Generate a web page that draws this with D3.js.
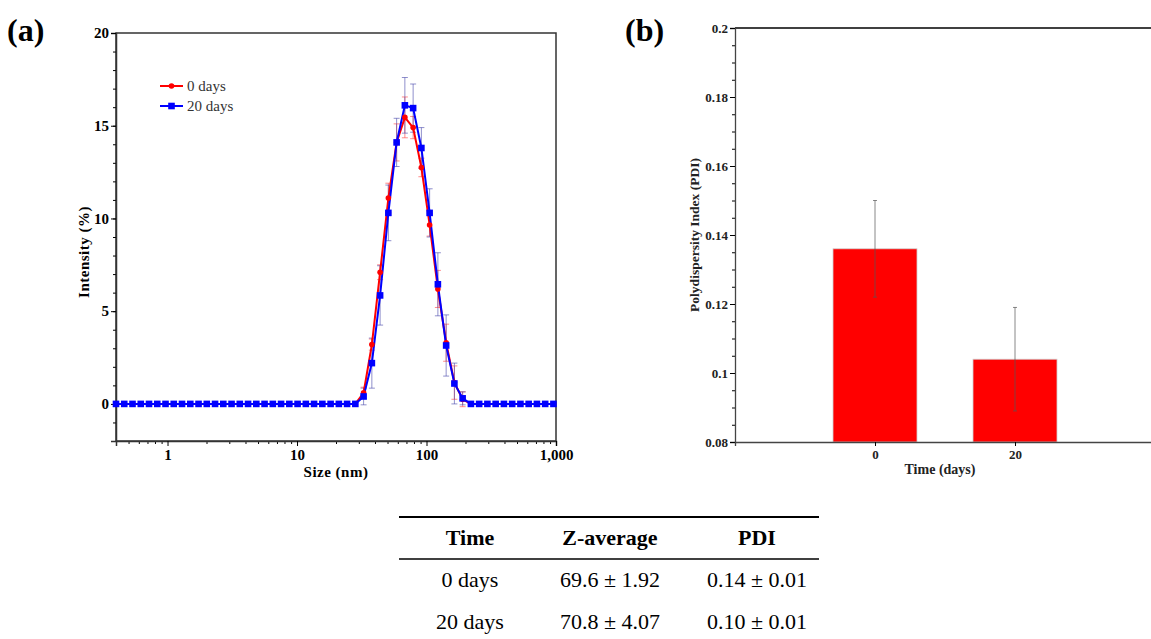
<html lang="en">
  <head>
    <meta charset="utf-8">
    <script src="https://d3js.org/d3.v7.min.js"></script>
    <style type="text/css">
body {
  margin: 0;
  background: white;
}
svg text {
  font-family: "Liberation Serif", "Times New Roman", serif;
}
    </style>
  </head>
  <body>
    <div id="figure"></div>

    <script type="text/javascript">
// DLS size classes (nm)
const sizes = [0.4, 0.4632, 0.5365, 0.6213, 0.7195, 0.8332, 0.9649, 1.117, 1.294, 1.499,
  1.736, 2.01, 2.328, 2.696, 3.122, 3.615, 4.187, 4.849, 5.615, 6.503,
  7.531, 8.721, 10.1, 11.7, 13.54, 15.69, 18.17, 21.04, 24.36, 28.21,
  32.67, 37.84, 43.82, 50.75, 58.77, 68.06, 78.82, 91.28, 105.7, 122.4,
  141.8, 164.2, 190.1, 220.2, 255, 295.3, 342, 396.1, 458.7, 531.2,
  615.1, 712.4, 825, 955.4];

const intensity0 = [0, 0, 0, 0, 0, 0, 0, 0, 0, 0,
  0, 0, 0, 0, 0, 0, 0, 0, 0, 0,
  0, 0, 0, 0, 0, 0, 0, 0, 0, 0,
  0.6, 3.2, 7.1, 11.1, 14.1, 15.45, 14.9, 12.75, 9.65, 6.2,
  3.3, 1.15, 0.25, 0, 0, 0, 0, 0, 0, 0,
  0, 0, 0, 0];
const error0 = [0, 0, 0, 0, 0, 0, 0, 0, 0, 0,
  0, 0, 0, 0, 0, 0, 0, 0, 0, 0,
  0, 0, 0, 0, 0, 0, 0, 0, 0, 0,
  0.3, 0.3, 0.4, 0.8, 1.0, 1.1, 0.6, 0.5, 0.6, 1.0,
  1.0, 0.9, 0.4, 0, 0, 0, 0, 0, 0, 0,
  0, 0, 0, 0];

const intensity20 = [0, 0, 0, 0, 0, 0, 0, 0, 0, 0,
  0, 0, 0, 0, 0, 0, 0, 0, 0, 0,
  0, 0, 0, 0, 0, 0, 0, 0, 0, 0,
  0.4, 2.2, 5.85, 10.3, 14.1, 16.1, 15.95, 13.8, 10.3, 6.45,
  3.15, 1.1, 0.3, 0, 0, 0, 0, 0, 0, 0,
  0, 0, 0, 0];
const error20 = [0, 0, 0, 0, 0, 0, 0, 0, 0, 0,
  0, 0, 0, 0, 0, 0, 0, 0, 0, 0,
  0, 0, 0, 0, 0, 0, 0, 0, 0, 0,
  0.45, 1.35, 1.6, 1.5, 1.3, 1.5, 1.3, 1.1, 1.3, 1.7,
  1.65, 1.1, 0.35, 0, 0, 0, 0, 0, 0, 0,
  0, 0, 0, 0];

const seriesNames = ["0 days", "20 days"];
const sizeTicks = [1, 10, 100, 1000];
const intensityTicks = [0, 5, 10, 15, 20];

// panel (b)
const pdiDays = [0, 20];
const pdiValues = [0.136, 0.104];
const pdiErrors = [0.014, 0.015];
const pdiTicks = [0.08, 0.1, 0.12, 0.14, 0.16, 0.18, 0.2];

// table
const tableHeader = ["Time", "Z-average", "PDI"];
const tableRows = [
  ["0 days", "69.6 ± 1.92", "0.14 ± 0.01"],
  ["20 days", "70.8 ± 4.07", "0.10 ± 0.01"]
];

const width = 1151;
const height = 639;
const boxA = {left: 116, right: 556, top: 33, bottom: 441};
const boxB = {left: 735, right: 1155, top: 28, bottom: 442};
const colors = {"0 days": "#ff0000", "20 days": "#0000ff"};
const errColors = {"0 days": "rgba(255,90,90,0.7)", "20 days": "rgba(70,70,170,0.6)"};

let svg = d3.select("#figure").append("svg")
  .attr("width", width)
  .attr("height", height)
  .attr("viewBox", [0, 0, width, height]);

// ---------- panel (a) ----------
let x = d3.scaleLog()
  .domain([0.4, 1000])
  .range([boxA.left, boxA.right]);

let y = d3.scaleLinear()
  .domain([-2, 20])
  .range([boxA.bottom, boxA.top]);

let series = [
  {key: "0 days", values: sizes.map((s, i) => ({s: s, v: intensity0[i], e: error0[i]}))},
  {key: "20 days", values: sizes.map((s, i) => ({s: s, v: intensity20[i], e: error20[i]}))}
];

// frame
svg.append("rect")
  .attr("x", boxA.left)
  .attr("y", boxA.top)
  .attr("width", boxA.right - boxA.left)
  .attr("height", boxA.bottom - boxA.top)
  .attr("fill", "none")
  .attr("stroke", "#333")
  .attr("stroke-width", 1.5);

// y axis: major and minor ticks
svg.append("g")
  .attr("transform", `translate(${boxA.left},0)`)
  .call(d3.axisLeft(y).tickValues(d3.range(-2, 21, 1)).tickSize(3).tickFormat(""))
  .call(g => g.select(".domain").remove());

svg.append("g")
  .attr("transform", `translate(${boxA.left},0)`)
  .call(d3.axisLeft(y).tickValues(intensityTicks).tickSize(5).tickPadding(2))
  .call(g => g.select(".domain").attr("stroke", "#333").attr("stroke-width", 1.5))
  .call(g => g.selectAll("text")
    .attr("font-family", "Liberation Serif")
    .attr("font-weight", "bold")
    .attr("font-size", 15)
    .attr("fill", "#000"));

// x axis: log minor ticks
let minorSizes = [];
[0.1, 1, 10, 100].forEach(d => {
  for (let k = 1; k < 10; k++) {
    let v = d * k;
    if (v >= 0.4 && v <= 1000 && !sizeTicks.includes(v)) minorSizes.push(v);
  }
});

svg.append("g")
  .attr("transform", `translate(0,${boxA.bottom})`)
  .call(d3.axisBottom(x).tickValues(minorSizes).tickSize(3).tickFormat(""))
  .call(g => g.select(".domain").remove());

svg.append("g")
  .attr("transform", `translate(0,${boxA.bottom})`)
  .call(d3.axisBottom(x).tickValues(sizeTicks).tickSize(5).tickPadding(3)
    .tickFormat(d3.format(",")))
  .call(g => g.select(".domain").attr("stroke", "#333").attr("stroke-width", 1.5))
  .call(g => g.selectAll("text")
    .attr("font-family", "Liberation Serif")
    .attr("font-weight", "bold")
    .attr("font-size", 15)
    .attr("fill", "#000"));

svg.append("text")
  .attr("x", (boxA.left + boxA.right) / 2)
  .attr("y", 477)
  .attr("text-anchor", "middle")
  .attr("font-weight", "bold")
  .attr("font-size", 15)
  .attr("letter-spacing", 0.5)
  .text("Size (nm)");

svg.append("text")
  .attr("transform", `translate(89,${(boxA.top + boxA.bottom) / 2 + 15}) rotate(-90)`)
  .attr("text-anchor", "middle")
  .attr("font-weight", "bold")
  .attr("font-size", 15)
  .attr("letter-spacing", 0.5)
  .text("Intensity (%)");

// error bars
let errGroup = svg.append("g");
series.forEach(sr => {
  let pts = sr.values.filter(d => d.e > 0);
  let g = errGroup.append("g")
    .attr("stroke", errColors[sr.key])
    .attr("stroke-width", 1);
  g.selectAll("line.bar")
    .data(pts)
    .join("line")
      .attr("class", "bar")
      .attr("x1", d => x(d.s)).attr("x2", d => x(d.s))
      .attr("y1", d => y(d.v - d.e)).attr("y2", d => y(d.v + d.e));
  [-1, 1].forEach(sign => {
    g.selectAll(`line.cap${sign}`)
      .data(pts)
      .join("line")
        .attr("class", `cap${sign}`)
        .attr("x1", d => x(d.s) - 3).attr("x2", d => x(d.s) + 3)
        .attr("y1", d => y(d.v + sign * d.e)).attr("y2", d => y(d.v + sign * d.e));
  });
});

let line = d3.line()
  .x(d => x(d.s))
  .y(d => y(d.v));

series.forEach(sr => {
  svg.append("path")
    .datum(sr.values)
    .attr("fill", "none")
    .attr("stroke", colors[sr.key])
    .attr("stroke-width", 2)
    .attr("d", line);
});

// markers
svg.append("g")
  .selectAll("circle")
  .data(series[0].values)
  .join("circle")
    .attr("cx", d => x(d.s))
    .attr("cy", d => y(d.v))
    .attr("r", 2.8)
    .attr("fill", colors["0 days"]);

svg.append("g")
  .selectAll("rect")
  .data(series[1].values)
  .join("rect")
    .attr("x", d => x(d.s) - 3.3)
    .attr("y", d => y(d.v) - 3.3)
    .attr("width", 6.6)
    .attr("height", 6.6)
    .attr("fill", colors["20 days"]);

// legend
let legend = svg.append("g").attr("transform", "translate(160,86)");
seriesNames.forEach((name, i) => {
  let row = legend.append("g").attr("transform", `translate(0,${i * 20})`);
  row.append("line")
    .attr("x1", 0).attr("x2", 23)
    .attr("stroke", colors[name])
    .attr("stroke-width", 2);
  if (i == 0) {
    row.append("circle").attr("cx", 11.5).attr("r", 2.8).attr("fill", colors[name]);
  } else {
    row.append("rect").attr("x", 8.2).attr("y", -3.3)
      .attr("width", 6.6).attr("height", 6.6).attr("fill", colors[name]);
  }
  row.append("text")
    .attr("x", 27)
    .attr("y", 5)
    .attr("font-size", 15)
    .attr("fill", "#333")
    .text(name);
});

svg.append("text")
  .attr("x", 7)
  .attr("y", 41)
  .attr("font-weight", "bold")
  .attr("font-size", 32)
  .text("(a)");

// ---------- panel (b) ----------
let xb = d3.scaleLinear()
  .domain([-20, 40])
  .range([boxB.left, boxB.right]);

let yb = d3.scaleLinear()
  .domain([0.08, 0.2])
  .range([boxB.bottom, boxB.top]);

let barWidth = xb(12) - xb(0);

svg.append("g")
  .selectAll("rect")
  .data(pdiDays)
  .join("rect")
    .attr("x", (d, i) => xb(d) - barWidth / 2)
    .attr("y", (d, i) => yb(pdiValues[i]))
    .attr("width", barWidth)
    .attr("height", (d, i) => yb(0.08) - yb(pdiValues[i]))
    .attr("fill", "#ff0000")
    .attr("stroke", "#d0d0d0")
    .attr("stroke-width", 0.8);

let errB = svg.append("g")
  .attr("stroke", "#555")
  .attr("stroke-opacity", 0.7)
  .attr("stroke-width", 1);
pdiDays.forEach((d, i) => {
  errB.append("line")
    .attr("x1", xb(d)).attr("x2", xb(d))
    .attr("y1", yb(pdiValues[i] - pdiErrors[i]))
    .attr("y2", yb(pdiValues[i] + pdiErrors[i]));
  [-1, 1].forEach(sign => {
    errB.append("line")
      .attr("x1", xb(d) - 2).attr("x2", xb(d) + 2)
      .attr("y1", yb(pdiValues[i] + sign * pdiErrors[i]))
      .attr("y2", yb(pdiValues[i] + sign * pdiErrors[i]));
  });
});

// top border
svg.append("line")
  .attr("x1", boxB.left).attr("x2", width)
  .attr("y1", boxB.top).attr("y2", boxB.top)
  .attr("stroke", "#000")
  .attr("stroke-width", 1.5);

svg.append("g")
  .attr("transform", `translate(${boxB.left},0)`)
  .call(d3.axisLeft(yb).tickValues(d3.range(0.08, 0.2001, 0.005)).tickSize(3).tickFormat(""))
  .call(g => g.select(".domain").remove());

svg.append("g")
  .attr("transform", `translate(${boxB.left},0)`)
  .call(d3.axisLeft(yb).tickValues(pdiTicks).tickSize(5).tickPadding(2)
    .tickFormat(d3.format("~g")))
  .call(g => g.select(".domain").attr("stroke", "#444").attr("stroke-width", 1.3))
  .call(g => g.selectAll("text")
    .attr("font-family", "Liberation Serif")
    .attr("font-weight", "bold")
    .attr("font-size", 13)
    .attr("fill", "#222"));

svg.append("g")
  .attr("transform", `translate(0,${boxB.bottom})`)
  .call(d3.axisBottom(xb).tickValues(pdiDays).tickSize(4).tickPadding(4))
  .call(g => g.select(".domain").attr("stroke", "#444").attr("stroke-width", 1.3))
  .call(g => g.selectAll("text")
    .attr("font-family", "Liberation Serif")
    .attr("font-weight", "bold")
    .attr("font-size", 13)
    .attr("fill", "#222"));

svg.append("text")
  .attr("x", xb(10) - 5)
  .attr("y", 474)
  .attr("text-anchor", "middle")
  .attr("font-weight", "bold")
  .attr("font-size", 14)
  .attr("fill", "#222")
  .text("Time (days)");

svg.append("text")
  .attr("transform", `translate(699,${(boxB.top + boxB.bottom) / 2}) rotate(-90)`)
  .attr("text-anchor", "middle")
  .attr("font-weight", "bold")
  .attr("font-size", 13.5)
  .attr("fill", "#222")
  .text("Polydispersity Index (PDI)");

svg.append("text")
  .attr("x", 625)
  .attr("y", 41)
  .attr("font-weight", "bold")
  .attr("font-size", 32)
  .text("(b)");

// ---------- table ----------
const colCenters = [470, 610, 757];
const table = {left: 399, right: 819, top: 517, mid: 559};

svg.append("line")
  .attr("x1", table.left).attr("x2", table.right)
  .attr("y1", table.top).attr("y2", table.top)
  .attr("stroke", "#000").attr("stroke-width", 2);
svg.append("line")
  .attr("x1", table.left).attr("x2", table.right)
  .attr("y1", table.mid).attr("y2", table.mid)
  .attr("stroke", "#000").attr("stroke-width", 1.5);

svg.append("g")
  .selectAll("text")
  .data(tableHeader)
  .join("text")
    .attr("x", (d, i) => colCenters[i])
    .attr("y", 545)
    .attr("text-anchor", "middle")
    .attr("font-weight", "bold")
    .attr("font-size", 22)
    .text(d => d);

tableRows.forEach((row, r) => {
  svg.append("g")
    .selectAll("text")
    .data(row)
    .join("text")
      .attr("x", (d, i) => colCenters[i])
      .attr("y", 587 + r * 42)
      .attr("text-anchor", "middle")
      .attr("font-size", 22)
      .text(d => d);
});
    </script>
  </body>
</html>
